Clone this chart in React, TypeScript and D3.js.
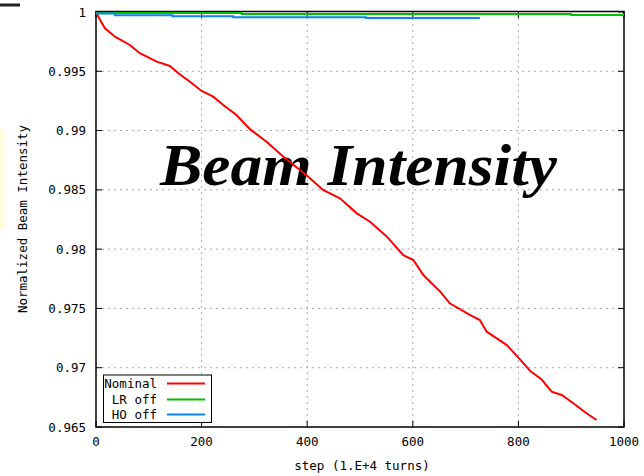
import React from "react";
import * as d3 from "d3";

const W = 644;
const H = 476;

const nominalX = [0, 8, 17, 36, 64, 83, 115, 140, 156, 178, 200, 222, 241, 266, 292, 323, 355, 402, 430, 462, 494, 519, 551, 582, 601, 620, 652, 670, 708, 727, 740, 759, 778, 803, 822, 844, 863, 882, 904, 929, 948];
const nominalY = [1.0, 0.9993, 0.99863, 0.99792, 0.99722, 0.99652, 0.99581, 0.99545, 0.99483, 0.99412, 0.99334, 0.99286, 0.99216, 0.99131, 0.9901, 0.98906, 0.9878, 0.98611, 0.98499, 0.98429, 0.98302, 0.98231, 0.98105, 0.9795, 0.97908, 0.97782, 0.97641, 0.97543, 0.97445, 0.97402, 0.97304, 0.97248, 0.97191, 0.9707, 0.96975, 0.969, 0.96798, 0.9677, 0.967, 0.96616, 0.96559];

const lrOffX = [0, 276, 900, 1000];
const lrOffY = [0.99991, 0.99983, 0.99975, 0.99975];

const hoOffX = [0, 36, 145, 260, 511, 727];
const hoOffY = [0.99988, 0.99972, 0.99964, 0.99956, 0.9995, 0.9995];

const xTicks = [0, 200, 400, 600, 800, 1000];
const yTicks = [1, 0.995, 0.99, 0.985, 0.98, 0.975, 0.97, 0.965];
const yTickLabels = ["1", "0.995", "0.99", "0.985", "0.98", "0.975", "0.97", "0.965"];

const seriesNames = ["Nominal", "LR off", "HO off"];
const seriesColors = ["#ff0000", "#00c000", "#0a84f0"];

const L = 96, R = 624, T = 12, B = 427;
const mono = "'DejaVu Sans Mono', monospace";

export default function App() {
  const x = d3.scaleLinear().domain([0, 1000]).range([L, R]);
  const y = d3.scaleLinear().domain([0.965, 1]).range([B, T]);

  const zip = (xs: number[], ys: number[]) => xs.map((v, i) => [v, ys[i]] as [number, number]);
  const lin = d3.line<[number, number]>().x(d => x(d[0])).y(d => y(d[1]));
  const step = d3.line<[number, number]>().x(d => x(d[0])).y(d => y(d[1])).curve(d3.curveStepAfter);

  const legendRows = [383.5, 399.5, 414.5];

  return (
    <svg width={W} height={H} style={{ position: "absolute", left: 0, top: 0, display: "block" }}>
      <rect x={0} y={0} width={W} height={H} fill="#fff" />
      {/* edge artifacts */}
      <rect x={0} y={3.5} width={20} height={3} fill="#222" />
      <rect x={0} y={130} width={5} height={100} fill="#fffde0" />

      <defs>
        <clipPath id="plot">
          <rect x={L} y={T - 2} width={R - L} height={B - T + 2} />
        </clipPath>
      </defs>

      {/* grid */}
      {xTicks.slice(1, -1).map(t => (
        <line key={"gx" + t} x1={x(t)} x2={x(t)} y1={T} y2={B} stroke="#aaa" strokeWidth={1} strokeDasharray="2,4" />
      ))}
      {yTicks.slice(1, -1).map(t => (
        <line key={"gy" + t} x1={L} x2={R} y1={y(t)} y2={y(t)} stroke="#aaa" strokeWidth={1} strokeDasharray="2,4" />
      ))}

      {/* ticks */}
      {xTicks.map(t => (
        <g key={"tx" + t}>
          <line x1={x(t)} x2={x(t)} y1={B} y2={B - 6} stroke="#000" />
          <line x1={x(t)} x2={x(t)} y1={T} y2={T + 6} stroke="#000" />
          <text x={x(t)} y={446} textAnchor="middle" fontFamily={mono} fontSize={12.5} fill="#000">{t}</text>
        </g>
      ))}
      {yTicks.map((t, i) => (
        <g key={"ty" + t}>
          <line x1={L} x2={L + 6} y1={y(t)} y2={y(t)} stroke="#000" />
          <line x1={R} x2={R - 6} y1={y(t)} y2={y(t)} stroke="#000" />
          <text x={86} y={y(t) + 4.5} textAnchor="end" fontFamily={mono} fontSize={12.5} fill="#000">{yTickLabels[i]}</text>
        </g>
      ))}

      {/* title */}
      <text x={160} y={185} textLength={397} lengthAdjust="spacingAndGlyphs" fontFamily="'Liberation Serif', 'Times New Roman', serif" fontWeight="bold" fontStyle="italic" fontSize={59} fill="#000">Beam Intensity</text>

      {/* frame */}
      <rect x={L} y={T - 0.5} width={R - L} height={B - T + 0.5} fill="none" stroke="#000" strokeWidth={1.5} />

      {/* series */}
      <g clipPath="url(#plot)">
        <path d={lin(zip(nominalX, nominalY)) || ""} fill="none" stroke={seriesColors[0]} strokeWidth={2} />
        <path d={step(zip(lrOffX, lrOffY)) || ""} fill="none" stroke={seriesColors[1]} strokeWidth={2} />
        <path d={step(zip(hoOffX, hoOffY)) || ""} fill="none" stroke={seriesColors[2]} strokeWidth={2} />
      </g>

      {/* legend */}
      <rect x={103.5} y={375} width={108} height={47.5} fill="#fff" stroke="#000" strokeWidth={1} />
      {seriesNames.map((n, i) => (
        <g key={n}>
          <text x={157} y={legendRows[i] + 4.5} textAnchor="end" fontFamily={mono} fontSize={12.5} fill="#000">{n}</text>
          <line x1={167} x2={205} y1={legendRows[i]} y2={legendRows[i]} stroke={seriesColors[i]} strokeWidth={2} />
        </g>
      ))}

      {/* axis labels */}
      <text x={362} y={470} textAnchor="middle" fontFamily={mono} fontSize={12.5} fill="#000">step (1.E+4 turns)</text>
      <text transform="translate(27,219) rotate(-90)" textAnchor="middle" fontFamily={mono} fontSize={12.5} fill="#000">Normalized Beam Intensity</text>
    </svg>
  );
}
